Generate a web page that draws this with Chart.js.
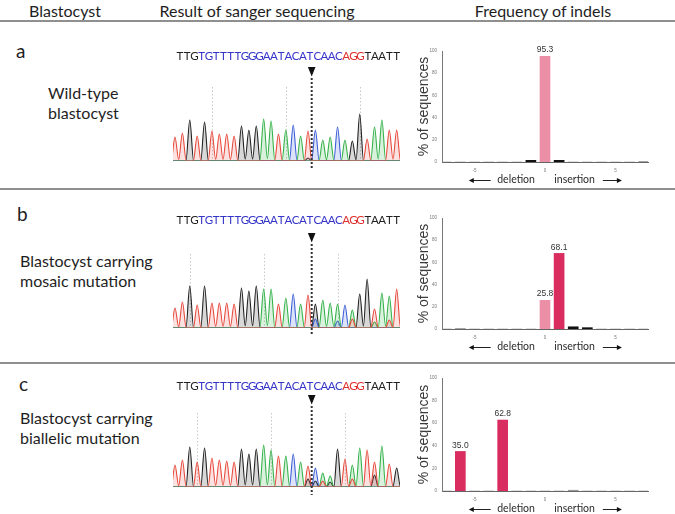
<!DOCTYPE html>
<html><head><meta charset="utf-8">
<script src="https://cdn.jsdelivr.net/npm/chart.js@4.4.1/dist/chart.umd.min.js"></script>
<style>
html,body{margin:0;padding:0;background:#fff;}
body{width:675px;height:514px;position:relative;overflow:hidden;font-family:Lato,'Open Sans',sans-serif;color:#1e1e1e;}
.t{position:absolute;white-space:nowrap;line-height:1.2;}
.hd{font-size:16px;text-align:center;width:240px;}
.lt{font-size:19px;}
.ds{font-size:16px;line-height:20px;}
.hr{position:absolute;left:0;width:675px;height:2px;background:#8f8f8f;}
canvas{position:absolute;}
</style></head><body>
<div class="t hd" style="left:-55px;top:1px">Blastocyst</div>
<div class="t hd" style="left:137px;top:1px">Result of sanger sequencing</div>
<div class="t hd" style="left:423px;top:1px">Frequency of indels</div>
<div class="hr" style="top:20px"></div>
<div class="hr" style="top:188px"></div>
<div class="hr" style="top:362px"></div>
<div class="t lt" style="left:16px;top:40px">a</div>
<div class="t lt" style="left:17px;top:203px">b</div>
<div class="t lt" style="left:19px;top:373px">c</div>
<div class="t ds" style="left:48px;top:83px">Wild-type<br>blastocyst</div>
<div class="t ds" style="left:20px;top:251px">Blastocyst carrying<br>mosaic mutation</div>
<div class="t ds" style="left:20px;top:408px">Blastocyst carrying<br>biallelic mutation</div>
<canvas id="chA" width="245" height="130" style="left:165px;top:45px"></canvas>
<canvas id="chB" width="245" height="135" style="left:165px;top:205px"></canvas>
<canvas id="chC" width="245" height="135" style="left:165px;top:365px"></canvas>
<canvas id="barA" width="275" height="150" style="left:400px;top:40px"></canvas>
<canvas id="barB" width="275" height="150" style="left:400px;top:205px"></canvas>
<canvas id="barC" width="275" height="149" style="left:400px;top:365px"></canvas>
<script>
// ---------------- DATA ----------------
const sequence = "TTGTGTTTTGGGAATACATCAACAGGTAATT";
const spacerStart = 3, spacerEnd = 23, pamEnd = 26; // colour groups of the sequence text (0-based bounds)
// called bases and peak heights of the Sanger traces
const calledA = "TTGTGTTTTGGGAATACATCAACAGGTAATT";
const heightsA = [24,28,41,25,39,30,27,27,25,35,31,35,42,40,27,31,36,25,30,31,21,24,34,21,20,47,22,34,41,31,31];
const extraPosA = [19];
const extraBaseA = "G";
const extraHeightA = [3];
const calledB = "TTGTGTTTTGGGAATACATGAAACAGGTAAT";
const heightsB = [20,26,42,23,42,25,25,25,24,40,37,42,39,39,24,30,34,24,33,24,28,25,24,23,18,34,49,19,35,32,39];
const extraPosB = [20,23,25,28,30];
const extraBaseB = "CCTAT";
const extraHeightB = [9,7,9,6,8];
const calledC = "TTGTGTTTTGGGAATACATCAAGTAATTATG";
const heightsC = [22,27,40,25,39,29,27,26,25,38,33,38,42,37,31,31,33,25,21,19,14,11,38,28,22,39,37,25,41,23,19];
const extraPosC = [19,20,21,22,25,28];
const extraBaseC = "GGTGTG";
const extraHeightC = [8,6,6,5,8,12];
const guidesA = [6,16,26];
const guidesB = [3,13,23];
const guidesC = [4,14,24];
const cutSite = 19.5;
// indel frequency histograms
const indelSizes = [-7,-6,-5,-4,-3,-2,-1,0,1,2,3,4,5,6,7];
const freqA = [0,0,0,0,0,0,1.5,95.3,1.5,0,0,0,0,0,0.5];
const freqB = [0,0.5,0,0,0,0,0,25.8,68.1,2.0,1.2,0,0,0,0];
const freqC = [0,35.0,0,0,62.8,0,0,0,0,0.7,0,0,0,0,0];
const xTickValues = [-5,0,5];
const yTickValues = [0,20,40,60,80,100];

// ---------------- STYLE ----------------
Chart.defaults.font.family = "'Liberation Sans', Arial, sans-serif";
const baseColor = {A:'#34b24a', C:'#3d5fd6', G:'#222222', T:'#e6493c'};
const baseFill = {A:'rgba(52,178,74,0.18)', C:'rgba(61,95,214,0.18)', G:'rgba(40,40,40,0.18)', T:'rgba(230,73,60,0.16)'};
const X_MIN = 0.73, X_MAX = 31.45, W = 0.52;

function tracePoints(list){
  const pts = [{x:0.2,y:0}];
  for (let k=0;k<list.length;k++){
    const [p,h] = list[k];
    const prev = list[k-1], next = list[k+1];
    if (!(prev && p-prev[0] < 2*W)) pts.push({x:p-W,y:0});
    pts.push({x:p,y:h});
    if (next && next[0]-p < 2*W) pts.push({x:(p+next[0])/2, y:Math.min(h,next[1])*0.06});
    else pts.push({x:p+W,y:0});
  }
  pts.push({x:32,y:0});
  return pts;
}

function chromo(id, called, heights, exPos, exBase, exH, guides, L){
  const peaks = {A:[],C:[],G:[],T:[]};
  for (let i=0;i<called.length;i++) peaks[called[i]].push([i+1, heights[i]]);
  exPos.forEach((p,k)=>peaks[exBase[k]].push([p, exH[k]]));
  const datasets = ['T','A','C','G'].map(b=>({
    data: tracePoints(peaks[b].sort((a,c)=>a[0]-c[0])),
    borderColor: baseColor[b], backgroundColor: baseFill[b], fill:'origin',
    borderWidth: 1.1, pointRadius:0, cubicInterpolationMode:'monotone'
  }));
  const overlay = {
    id:'overlay'+id,
    beforeDatasetsDraw(chart){
      const {ctx, chartArea:a, scales:{x}} = chart;
      ctx.save(); ctx.strokeStyle='#c8c8c8'; ctx.lineWidth=1; ctx.setLineDash([1.5,2]);
      guides.forEach(g=>{const px=Math.round(x.getPixelForValue(g))+0.5; ctx.beginPath(); ctx.moveTo(px,a.top-24); ctx.lineTo(px,a.bottom); ctx.stroke();});
      ctx.restore();
    },
    afterDatasetsDraw(chart){
      const {ctx, chartArea:a, scales:{x}} = chart;
      ctx.save();
      ctx.font = "11.5px Lato, 'Open Sans', sans-serif";
      ctx.textAlign='center'; ctx.textBaseline='alphabetic';
      for (let j=0;j<sequence.length;j++){
        ctx.fillStyle = j<spacerStart ? '#1f1f1f' : j<spacerEnd ? '#3535c8' : j<pamEnd ? '#e0302e' : '#1f1f1f';
        ctx.fillText(sequence[j], x.getPixelForValue(1.68 + j*(29.32/30)), L.textY);
      }
      const cx = x.getPixelForValue(cutSite);
      ctx.fillStyle='#111';
      ctx.beginPath(); ctx.moveTo(cx-3.8,L.arrowY); ctx.lineTo(cx+3.8,L.arrowY); ctx.lineTo(cx,L.arrowY+9.5); ctx.closePath(); ctx.fill();
      ctx.strokeStyle='#333'; ctx.lineWidth=2; ctx.setLineDash([2,2]);
      ctx.beginPath(); ctx.moveTo(cx,L.arrowY+11); ctx.lineTo(cx,L.cutBottom); ctx.stroke();
      ctx.restore();
    }
  };
  new Chart(document.getElementById(id), {
    type:'line', data:{datasets},
    options:{responsive:false, animation:false, devicePixelRatio:1,
      layout:{padding:{top:L.pad, bottom:L.padB, left:8, right:10}},
      plugins:{legend:{display:false}, tooltip:{enabled:false}},
      scales:{x:{type:'linear', min:X_MIN, max:X_MAX, display:false}, y:{min:0, max:50, display:false}}},
    plugins:[overlay]
  });
}

chromo('chA', calledA, heightsA, extraPosA, extraBaseA, extraHeightA, guidesA, {pad:66, padB:14, textY:15, arrowY:22, cutBottom:125});
chromo('chB', calledB, heightsB, extraPosB, extraBaseB, extraHeightB, guidesB, {pad:73, padB:12, textY:19, arrowY:28, cutBottom:130});
chromo('chC', calledC, heightsC, extraPosC, extraBaseC, extraHeightC, guidesC, {pad:72, padB:13, textY:25, arrowY:30, cutBottom:130});

const PINK = '#eb8fa6', CRIMSON = '#d92c5f', DARK = '#111111', GREY = '#9a9a9a';
function barColor(size, v){ return v >= 10 ? (size === 0 ? PINK : CRIMSON) : (v >= 1 ? DARK : GREY); }

const barDecor = {
  id:'barDecor',
  afterDraw(chart){
    const {ctx, chartArea:a, scales:{x}} = chart;
    ctx.save();
    const meta = chart.getDatasetMeta(0);
    ctx.font = "8.5px 'Liberation Sans', Arial"; ctx.fillStyle='#333'; ctx.textAlign='center'; ctx.textBaseline='bottom';
    meta.data.forEach((el,i)=>{ const v = chart.data.datasets[0].data[i].y; if (v >= 10) ctx.fillText(v.toFixed(1), el.x, el.y-2); });
    ctx.save(); ctx.translate(a.left-18, (a.top+a.bottom)/2); ctx.rotate(-Math.PI/2);
    ctx.font = "14px 'Liberation Sans', Arial"; ctx.fillStyle='#3a3a3a'; ctx.textBaseline='middle';
    ctx.fillText('% of sequences', 0, 0); ctx.restore();
    const yy = a.bottom + 18;
    ctx.font = "10.5px Lato, sans-serif"; ctx.fillStyle='#2a2a2a'; ctx.textBaseline='middle';
    ctx.fillText('deletion', x.getPixelForValue(-2.05), yy);
    ctx.fillText('insertion', x.getPixelForValue(2.1), yy);
    ctx.strokeStyle='#222'; ctx.lineWidth=1;
    const l1 = x.getPixelForValue(-5.4), l2 = x.getPixelForValue(-3.85);
    const r1 = x.getPixelForValue(4.1), r2 = x.getPixelForValue(5.45);
    ctx.beginPath(); ctx.moveTo(l1+4,yy+0.5); ctx.lineTo(l2,yy+0.5); ctx.moveTo(r1,yy+0.5); ctx.lineTo(r2-4,yy+0.5); ctx.stroke();
    ctx.fillStyle='#111';
    ctx.beginPath(); ctx.moveTo(l1,yy+0.5); ctx.lineTo(l1+5,yy-2); ctx.lineTo(l1+5,yy+3); ctx.closePath(); ctx.fill();
    ctx.beginPath(); ctx.moveTo(r2,yy+0.5); ctx.lineTo(r2-5,yy-2); ctx.lineTo(r2-5,yy+3); ctx.closePath(); ctx.fill();
    ctx.restore();
  }
};

function bars(id, freq, padTop, axisH){
  new Chart(document.getElementById(id), {
    type:'bar',
    data:{datasets:[{
      data: indelSizes.map((s,i)=>({x:s, y:freq[i]})),
      backgroundColor: indelSizes.map((s,i)=>barColor(s, freq[i])),
      barThickness:10, borderWidth:0
    }]},
    options:{responsive:false, animation:false, devicePixelRatio:1,
      layout:{padding:{top:padTop, right:27, left:0, bottom:0}},
      plugins:{legend:{display:false}, tooltip:{enabled:false}},
      scales:{
        x:{type:'linear', offset:false, min:-7.3, max:7.3, grid:{display:false, drawTicks:false}, border:{color:'#666', width:1},
           ticks:{font:{size:4.5}, color:'#777', padding:6, maxRotation:0, autoSkip:false},
           afterBuildTicks:s=>{ s.ticks = xTickValues.map(v=>({value:v})); },
           afterFit:s=>{ s.height = axisH; }},
        y:{min:0, max:100, grid:{display:false, drawTicks:false}, border:{color:'#777', width:1},
           ticks:{font:{size:4.5}, color:'#777', padding:5, autoSkip:false},
           afterBuildTicks:s=>{ s.ticks = yTickValues.map(v=>({value:v})); },
           afterFit:s=>{ s.width = 42; }}
      }},
    plugins:[barDecor]
  });
}
bars('barA', freqA, 11, 28);
bars('barB', freqB, 13, 26);
bars('barC', freqC, 13, 23);
</script>
</body></html>
